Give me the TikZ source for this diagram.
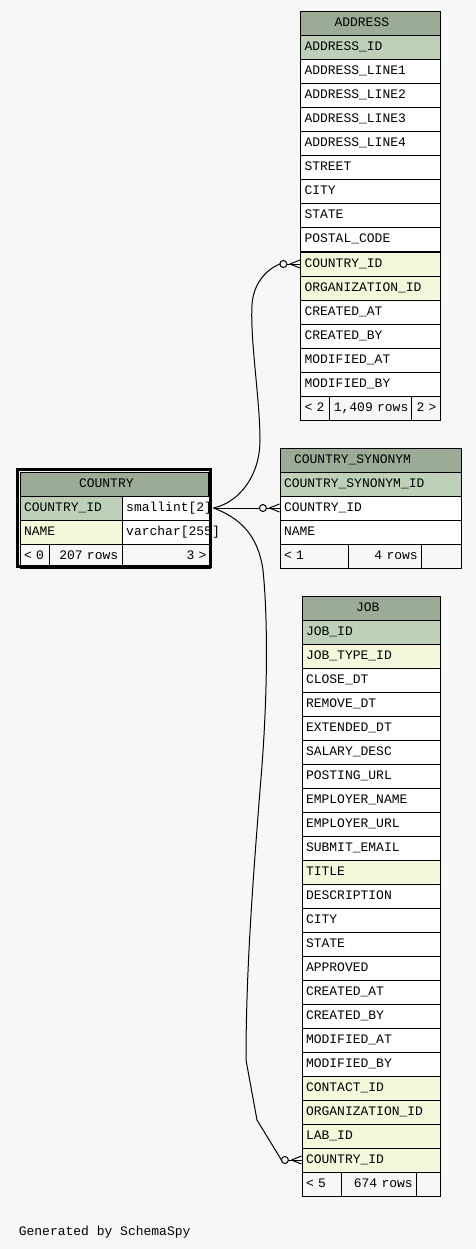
\documentclass[tikz,border=0pt]{standalone}
\usepackage{fontspec}
\setmonofont{Liberation Mono}
\usetikzlibrary{calc}
\definecolor{bg}{HTML}{F7F7F7}
\definecolor{headbg}{HTML}{9BAB96}
\definecolor{pkbg}{HTML}{BED1B8}
\definecolor{fkbg}{HTML}{F4F7DA}
\def\crowfoot(#1){\draw[fill=bg] ($(#1)+(-16.6,0)$) circle (3.5);
	\draw ($(#1)+(-13.1,0)$) -- (#1);
	\draw ($(#1)+(-10,0)$) -- ($(#1)+(0,-4)$);
	\draw ($(#1)+(-10,0)$) -- ($(#1)+(0,4)$);}
\tikzset{
	cell/.style={draw, fill=white, anchor=north west, inner xsep=4pt, inner ysep=0pt,
		minimum height=24pt, text height=9pt, text depth=3pt, align=left,
		font=\ttfamily\fontsize{13}{15}\selectfont},
	head/.style={cell, fill=headbg},
	pk/.style={cell, fill=pkbg},
	fk/.style={cell, fill=fkbg},
	foot/.style={cell, fill=bg},
}

\begin{document}
\begin{tikzpicture}[x=1pt, y=-1pt, line width=1pt]
				\fill[bg] (0,0) rectangle (476,1249);
				
				\begin{scope}[cell/.append style={text width=132pt}]
				\node[head] (addr) at (300,11.5) {\hspace*{30pt}ADDRESS};
				\node[pk] (a-id) at (300,35.5) {ADDRESS\_ID};
				\node[cell] (a-l1) at (300,59.5) {ADDRESS\_LINE1};
				\node[cell] (a-l2) at (300,83.5) {ADDRESS\_LINE2};
				\node[cell] (a-l3) at (300,107.5) {ADDRESS\_LINE3};
				\node[cell] (a-l4) at (300,131.5) {ADDRESS\_LINE4};
				\node[cell] (a-street) at (300,155.5) {STREET};
				\node[cell] (a-city) at (300,179.5) {CITY};
				\node[cell] (a-state) at (300,203.5) {STATE};
				\node[cell] (a-postal) at (300,227.5) {POSTAL\_CODE};
				\node[fk] (a-cid) at (300,251.5) {COUNTRY\_ID};
				\node[fk] (a-org) at (300,275.5) {ORGANIZATION\_ID};
				\node[cell] (a-cat) at (300,299.5) {CREATED\_AT};
				\node[cell] (a-cby) at (300,323.5) {CREATED\_BY};
				\node[cell] (a-mat) at (300,347.5) {MODIFIED\_AT};
				\node[cell] (a-mby) at (300,371.5) {MODIFIED\_BY};
				\end{scope}
				\node[foot, text width=21.3pt] (a-f1) at (300,395.5) {\mbox{< 2}};
				\node[foot, text width=74pt] (a-f2) at (329.3,395.5) {\mbox{1,409 rows}};
				\node[foot, text width=20.7pt, align=right] (a-f3) at (411.3,395.5) {\mbox{2 >}};
				
				\begin{scope}[cell/.append style={text width=173pt}]
				\node[head] (syn) at (279.5,447.5) {\hspace*{10pt}COUNTRY\_SYNONYM};
				\node[pk] (s-id) at (279.5,471.5) {COUNTRY\_SYNONYM\_ID};
				\node[cell] (s-cid) at (279.5,495.5) {COUNTRY\_ID};
				\node[cell] (s-name) at (279.5,519.5) {NAME};
				\end{scope}
				\node[foot, text width=60.8pt] (s-f1) at (279.5,543.5) {\mbox{< 1}};
				\node[foot, text width=65pt, align=right] (s-f2) at (348.3,543.5) {\mbox{4 rows}};
				\node[foot, text width=31.2pt] (s-f3) at (421.3,543.5) {};
				
				\node[head, text width=180.5pt] (cty) at (19.5,471.5) {\hspace*{55pt}COUNTRY};
				\node[pk, text width=94.2pt] (cty-id) at (19.5,495.5) {COUNTRY\_ID};
				\node[cell, text width=80.3pt] (cty-type) at (121.7,495.5) {smallint[2]};
				\node[fk, text width=94.2pt] (cty-name) at (19.5,519.5) {NAME};
				\node[cell, text width=80.3pt] (cty-vtype) at (121.7,519.5) {varchar[255]};
				\node[foot, text width=21.8pt] (cty-f1) at (19.5,543.5) {\mbox{< 0}};
				\node[foot, text width=64.4pt, align=right] (cty-f2) at (49.3,543.5) {\mbox{207 rows}};
				\node[foot, text width=80.3pt, align=right] (cty-f3) at (121.7,543.5) {\mbox{3 >}};
				\draw[line width=3pt] (17.2,469.8) rectangle (210.8,566.2);
				
				\begin{scope}[cell/.append style={text width=130pt}]
				\node[head] (job) at (301.5,595.5) {\hspace*{50pt}JOB};
				\node[pk] (j-id) at (301.5,619.5) {JOB\_ID};
				\node[fk] (j-type) at (301.5,643.5) {JOB\_TYPE\_ID};
				\node[cell] (j-close) at (301.5,667.5) {CLOSE\_DT};
				\node[cell] (j-remove) at (301.5,691.5) {REMOVE\_DT};
				\node[cell] (j-ext) at (301.5,715.5) {EXTENDED\_DT};
				\node[cell] (j-salary) at (301.5,739.5) {SALARY\_DESC};
				\node[cell] (j-url) at (301.5,763.5) {POSTING\_URL};
				\node[cell] (j-ename) at (301.5,787.5) {EMPLOYER\_NAME};
				\node[cell] (j-eurl) at (301.5,811.5) {EMPLOYER\_URL};
				\node[cell] (j-email) at (301.5,835.5) {SUBMIT\_EMAIL};
				\node[fk] (j-title) at (301.5,859.5) {TITLE};
				\node[cell] (j-desc) at (301.5,883.5) {DESCRIPTION};
				\node[cell] (j-city) at (301.5,907.5) {CITY};
				\node[cell] (j-state) at (301.5,931.5) {STATE};
				\node[cell] (j-appr) at (301.5,955.5) {APPROVED};
				\node[cell] (j-cat) at (301.5,979.5) {CREATED\_AT};
				\node[cell] (j-cby) at (301.5,1003.5) {CREATED\_BY};
				\node[cell] (j-mat) at (301.5,1027.5) {MODIFIED\_AT};
				\node[cell] (j-mby) at (301.5,1051.5) {MODIFIED\_BY};
				\node[fk] (j-contact) at (301.5,1075.5) {CONTACT\_ID};
				\node[fk] (j-org) at (301.5,1099.5) {ORGANIZATION\_ID};
				\node[fk] (j-lab) at (301.5,1123.5) {LAB\_ID};
				\node[fk] (j-cid) at (301.5,1147.5) {COUNTRY\_ID};
				\end{scope}
				\node[foot, text width=31.8pt] (j-f1) at (301.5,1171.5) {\mbox{< 5}};
				\node[foot, text width=67pt, align=right] (j-f2) at (341.3,1171.5) {\mbox{674 rows}};
				\node[foot, text width=15.2pt] (j-f3) at (416.3,1171.5) {};
				
				\draw ([xshift=2.5pt]cty-type.east) .. controls (240,502) and (260,475) .. (260,440)
					.. controls (260,400) and (250,340) .. (252,305)
					.. controls (253,285) and (265,270) .. ($(a-cid.west)+(-20.1,0)$);
				\crowfoot(a-cid.west);
				
				\draw ([xshift=2.5pt]cty-type.east) -- ($(s-cid.west)+(-20.1,0)$);
				\crowfoot(s-cid.west);
				
				\draw ([xshift=2.5pt]cty-type.east) .. controls (240,518) and (258,535) .. (263,570)
					.. controls (268,620) and (268,700) .. (260,790)
					.. controls (253,880) and (246,970) .. (246,1060)
					-- (257,1120) -- ($(j-cid.west)+(-20.1,0)$);
				\crowfoot(j-cid.west);
				
				\node[anchor=base west, font=\ttfamily\fontsize{13}{15}\selectfont] (gen) at (15,1235) {Generated by SchemaSpy};
\end{tikzpicture}
\end{document}
